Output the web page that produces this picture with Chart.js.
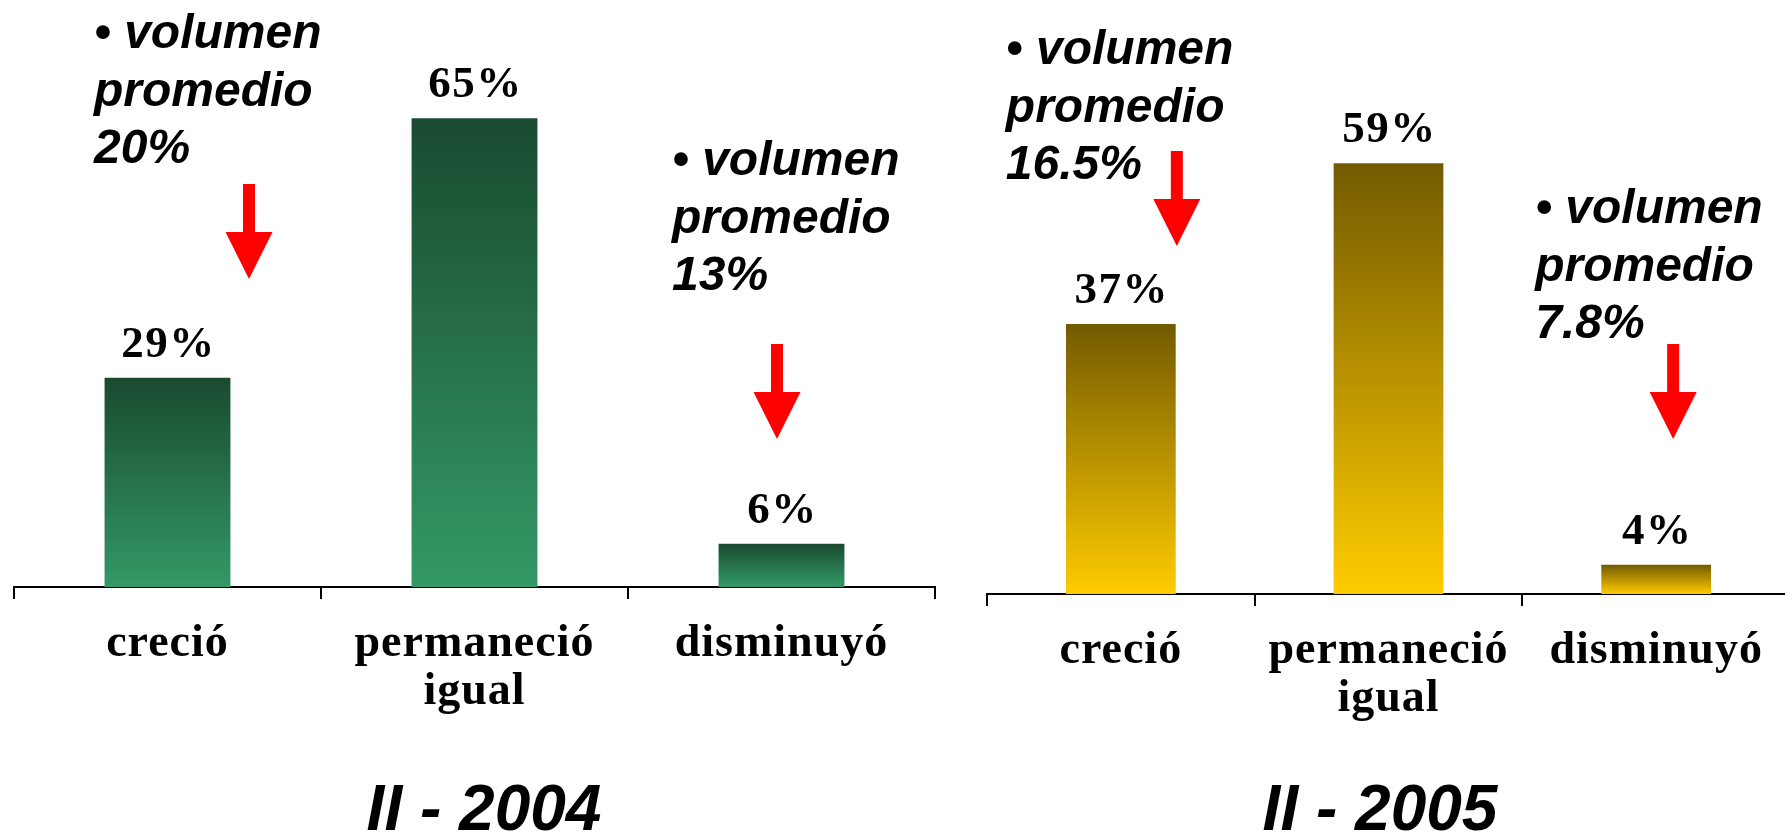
<!DOCTYPE html>
<html>
<head>
<meta charset="utf-8">
<script src="https://cdn.jsdelivr.net/npm/chart.js@4.4.1/dist/chart.umd.min.js"></script>
<style>
body{margin:0;background:#fff;overflow:hidden;width:1785px;height:833px;position:relative}
canvas{position:absolute;top:0}
#c2004{left:0}
#c2005{left:900px}
</style>
</head>
<body>
<canvas id="c2004" width="950" height="833"></canvas>
<canvas id="c2005" width="900" height="833"></canvas>
<script>
// categories (second one wraps on two lines)
var categories = ['creció', ['permaneció', 'igual'], 'disminuyó'];

// % per category
var values2004 = [29, 65, 6];
var values2005 = [37, 59, 4];

// average volume notes over the arrows (null = no note)
var notes2004 = ['20%', null, '13%'];
var notes2005 = ['16.5%', null, '7.8%'];

var titles = ['II - 2004', 'II - 2005'];

// each bar gets its own dark-to-light gradient
function barFill(top, bottom) {
    return function (c) {
        var ch = c.chart, y = ch.scales.y;
        if (!y || c.raw == null) return bottom;
        var y0 = y.getPixelForValue(c.raw), y1 = y.getPixelForValue(0);
        if (!isFinite(y0) || !isFinite(y1) || y0 === y1) return bottom;
        var g = ch.ctx.createLinearGradient(0, y0, 0, y1);
        g.addColorStop(0, top);
        g.addColorStop(1, bottom);
        return g;
    };
}

var extras = {
    id: 'extras',
    beforeDraw: function (chart) {
        // the old chart has its serif labels a little spread out
        chart.ctx.letterSpacing = '1px';
    },
    afterDatasetsDraw: function (chart) {
        var ctx = chart.ctx;
        var meta = chart.getDatasetMeta(0);
        var data = chart.data.datasets[0].data;
        ctx.save();
        ctx.letterSpacing = '1.5px';
        ctx.font = 'bold 45px "Liberation Serif", "Times New Roman", serif';
        ctx.fillStyle = '#000';
        ctx.textAlign = 'center';
        ctx.textBaseline = 'alphabetic';
        for (var i = 0; i < meta.data.length; i++) {
            var bar = meta.data[i];
            ctx.fillText(data[i] + '%', bar.x + 1, bar.y - 21);
        }
        ctx.restore();
    },
    afterDraw: function (chart) {
        var o = chart.options.plugins.extras;
        var ctx = chart.ctx;
        var x = chart.scales.x;
        ctx.save();
        ctx.letterSpacing = '0px';
        for (var i = 0; i < o.notes.length; i++) {
            if (o.notes[i] == null) continue;
            var cx = x.getPixelForValue(i);
            // text
            ctx.fillStyle = '#000';
            ctx.font = 'italic bold 48px "Liberation Sans", Arial, sans-serif';
            ctx.textAlign = 'left';
            ctx.textBaseline = 'alphabetic';
            var lines = ['\u2022 volumen', 'promedio', o.notes[i]];
            for (var k = 0; k < lines.length; k++) {
                ctx.fillText(lines[k], cx + o.textDx[i], o.textY[i] + k * 57.5);
            }
            // red arrow
            var ax = cx + o.arrowDx[i], top = o.arrowTop[i];
            ctx.fillStyle = '#ff0000';
            ctx.fillRect(ax - 6, top, 12, 49);
            ctx.beginPath();
            ctx.moveTo(ax - 23.5, top + 48);
            ctx.lineTo(ax + 23.5, top + 48);
            ctx.lineTo(ax, top + 95);
            ctx.closePath();
            ctx.fill();
        }
        // big title under the axis
        ctx.fillStyle = '#000';
        ctx.font = 'italic bold 64px "Liberation Sans", Arial, sans-serif';
        ctx.textAlign = 'center';
        ctx.fillText(o.title, o.titleX, 830);
        ctx.restore();
    }
};

function chartdrawer(ctx, values, topColor, bottomColor, pad, extraOpts) {
    return new Chart(ctx, {
        type: 'bar',
        data: {
            labels: categories,
            datasets: [{
                data: values,
                backgroundColor: barFill(topColor, bottomColor),
                borderWidth: 0,
                barPercentage: 0.41,
                categoryPercentage: 1
            }]
        },
        options: {
            responsive: false,
            animation: false,
            layout: { padding: pad },
            plugins: {
                legend: { display: false },
                tooltip: { enabled: false },
                extras: extraOpts
            },
            scales: {
                x: {
                    offset: true,
                    grid: {
                        offset: true,
                        drawOnChartArea: false,
                        drawTicks: true,
                        tickLength: 12,
                        color: '#000',
                        lineWidth: 2
                    },
                    border: { display: true, color: '#000', width: 2 },
                    ticks: {
                        color: '#000',
                        padding: 21.5,
                        maxRotation: 0,
                        autoSkip: false,
                        font: { family: '"Liberation Serif", "Times New Roman", serif', size: 46, weight: 'bold', lineHeight: 48 / 46 }
                    }
                },
                y: {
                    display: false,
                    min: 0,
                    max: 80
                }
            }
        },
        plugins: [extras]
    });
}

chartdrawer(document.getElementById('c2004').getContext('2d'), values2004, '#1a4a30', '#339966',
    { left: 14, right: 15, top: 10, bottom: 95 },
    { notes: notes2004, textDx: [-73.5, 0, -109.5], textY: [48, 0, 175],
      arrowDx: [81.5, 0, -4.5], arrowTop: [184, 0, 344], title: titles[0], titleX: 484 });

chartdrawer(document.getElementById('c2005').getContext('2d'), values2005, '#735a00', '#ffcc00',
    { left: 87, right: 10, top: 10, bottom: 88 },
    { notes: notes2005, textDx: [-115, 0, -121], textY: [64, 0, 223],
      arrowDx: [56, 0, 17], arrowTop: [151, 0, 344], title: titles[1], titleX: 480 });
</script>
</body>
</html>
